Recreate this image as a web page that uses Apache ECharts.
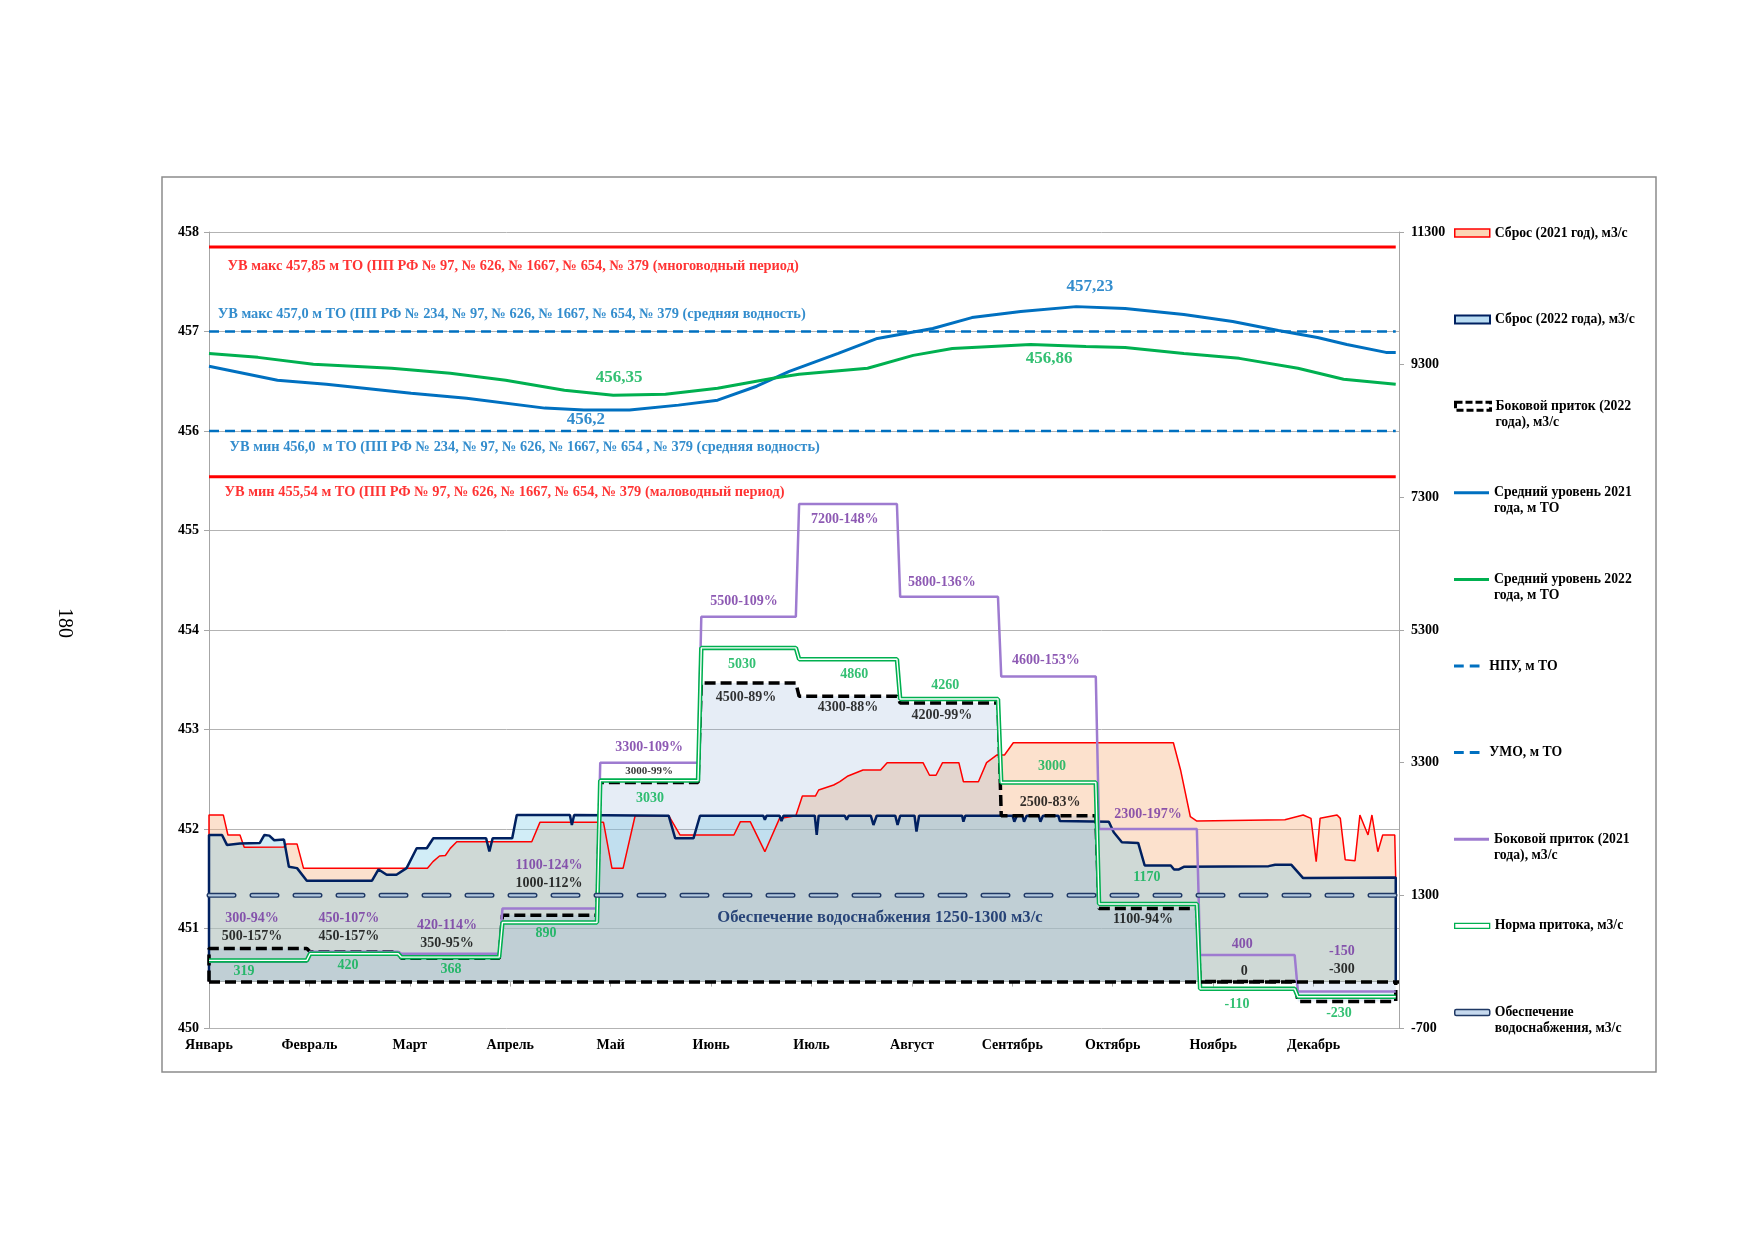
<!DOCTYPE html>
<html>
<head>
<meta charset="utf-8">
<title>Режим работы водохранилища 2021-2022</title>
<script src="https://cdn.jsdelivr.net/npm/echarts@6/dist/echarts.min.js"></script>
<style>
html, body { margin: 0; padding: 0; background: #fff; }
#chart { width: 1754px; height: 1240px; }
</style>
</head>
<body>
<div id="chart"></div>
<script>
// ---- данные ----
var monthStart = [0, 31, 59, 90, 120, 151, 181, 212, 243, 273, 304, 334, 365];
var monthNames = ['Январь', 'Февраль', 'Март', 'Апрель', 'Май', 'Июнь', 'Июль', 'Август', 'Сентябрь', 'Октябрь', 'Ноябрь', 'Декабрь'];

// боковой приток по месяцам, м3/с и % от нормы
var lat2021 = [300, 450, 420, 1100, 3300, 5500, 7200, 5800, 4600, 2300, 400, -150];
var lat2021Pct = [94, 107, 114, 124, 109, 109, 148, 136, 153, 197, null, null];
var lat2022 = [500, 450, 350, 1000, 3000, 4500, 4300, 4200, 2500, 1100, 0, -300];
var lat2022Pct = [157, 157, 95, 112, 99, 89, 88, 99, 83, 94, null, null];
var inflowNorm = [319, 420, 368, 890, 3030, 5030, 4860, 4260, 3000, 1170, -110, -230];

var supplyFlow = 1300;
var npuLevel = 457.0, umoLevel = 456.0, maxLevel = 457.85, minLevel = 455.54;

// средний уровень, м ТО: [день, уровень]
var level2021 = [[0,456.65],[21,456.51],[36,456.47],[62,456.38],[79,456.33],[103,456.23],[115,456.21],[129,456.21],[144,456.26],[156,456.31],[168,456.45],[178,456.60],[193,456.78],[205,456.93],[222,457.03],[234,457.14],[249,457.20],[266,457.25],[281,457.23],[299,457.17],[314,457.10],[328,457.01],[340,456.94],[349,456.87],[361,456.79],[364,456.79]];
var level2022 = [[0,456.78],[15,456.74],[32,456.67],[56,456.63],[74,456.58],[91,456.51],[109,456.41],[124,456.36],[140,456.37],[156,456.43],[173,456.53],[181,456.57],[202,456.63],[216,456.76],[228,456.83],[252,456.87],[269,456.85],[281,456.84],[299,456.78],[316,456.73],[334,456.63],[348,456.52],[364,456.47]];

// сброс, м3/с: [день, расход]
var release2021 = [[0,0],[0,2510],[4.4,2510],[5.8,2210],[9.5,2210],[10.8,2025],[23,2030],[23.8,2075],[27,2075],[29,1707],[67,1707],[68.7,1808],[70.7,1893],[72.5,1900],[74,2008],[76,2109],[99,2109],[101.5,2400],[121,2400],[123.6,1707],[127,1707],[130.7,2500],[141,2500],[144.5,2209],[161,2209],[163,2410],[166,2410],[170.5,1958],[175,2460],[180,2500],[182,2797],[186,2797],[187,2888],[191.6,2963],[193.5,3013],[196,3100],[200.6,3190],[206,3190],[208,3300],[219,3300],[221,3110],[223,3110],[225,3300],[230,3300],[231.4,3013],[236,3013],[238.5,3300],[241.6,3415],[244,3415],[246.7,3601],[295.8,3601],[298,3190],[301,2485],[303,2420],[330,2440],[335.6,2511],[338,2460],[339.6,1807],[340.8,2461],[346,2511],[347,2460],[348.5,1837],[351.5,1820],[353,2511],[355.5,2210],[356.7,2511],[358.5,1958],[360,2210],[363.7,2210],[364,1540],[364,0]];
var release2022 = [[0,0],[0,2210],[4,2210],[5.5,2060],[9.5,2080],[15.6,2090],[17,2210],[18.5,2200],[20,2130],[23,2140],[24.5,1730],[27,1710],[30,1520],[50,1520],[52,1690],[54.5,1610],[57.5,1610],[60.6,1710],[63.7,2010],[66.8,2010],[68.8,2160],[85,2160],[86,1960],[87,2160],[93,2160],[94.4,2510],[110.7,2510],[111.3,2360],[112,2510],[141,2500],[143,2160],[148.6,2160],[150.6,2500],[170,2500],[170.5,2440],[171,2500],[175,2500],[175.6,2420],[176.2,2500],[185.8,2500],[186.4,2210],[187,2500],[195,2500],[195.6,2440],[196.2,2500],[203,2500],[203.8,2360],[204.8,2500],[210.5,2500],[211.2,2360],[212,2500],[216.4,2500],[217,2260],[217.8,2500],[231,2500],[231.4,2410],[232,2500],[246.5,2500],[247,2410],[247.8,2500],[249.5,2500],[250,2410],[250.8,2500],[254.5,2500],[255,2410],[255.8,2500],[260.5,2500],[261,2420],[276,2410],[277.5,2250],[280,2100],[285,2090],[287,1750],[295,1750],[296,1690],[297.5,1690],[299,1730],[325,1740],[327,1760],[332,1760],[335.6,1560],[364,1570],[364,0]];

// подписи
var maxText = 'УВ макс 457,85 м ТО (ПП РФ № 97, № 626, № 1667, № 654, № 379 (многоводный период)';
var npuText = 'УВ макс 457,0 м ТО (ПП РФ № 234, № 97, № 626, № 1667, № 654, № 379 (средняя водность)';
var umoText = 'УВ мин 456,0  м ТО (ПП РФ № 234, № 97, № 626, № 1667, № 654 , № 379 (средняя водность)';
var minText = 'УВ мин 455,54 м ТО (ПП РФ № 97, № 626, № 1667, № 654, № 379 (маловодный период)';
var supplyText = 'Обеспечение водоснабжения 1250-1300 м3/с';
var level2021Text = ['456,2', '457,23'];
var level2022Text = ['456,35', '456,86'];

// ---- где стоят подписи (день, значение по оси) ----
var purpleLabelAt = [[13.2,958],[42.9,958],[73,853],[104.3,1757],[135,3536],[164.1,5737],[195,6973],[224.8,6023],[256.7,4848],[288,2526],[316.9,566],[347.5,461]];
var blackLabelAt = [[13.2,687],[42.9,687],[73,581],[104.3,1486],[135,3174],[164.7,4290],[196,4139],[224.8,4018],[258,2707],[286.5,943],[317.5,159],[347.5,189]];
var greenLabelAt = [[10.7,159],[42.6,250],[74.2,189],[103.4,732],[135.3,2767],[163.5,4787],[197.9,4637],[225.8,4471],[258.6,3250],[287.7,1576],[315.3,-338],[346.6,-474]];
var level2021LabelAt = [[115.6,456.11],[270.2,457.45]];
var level2022LabelAt = [[125.8,456.54],[257.7,456.73]];
var limitLabelAt = [[5.5,457.66],[2.5,457.17],[6.1,455.84],[4.6,455.38]];
var supplyLabelAt = [205.8, 958];

var FONT = "'Liberation Serif', 'DejaVu Serif', serif";
var monthTick = 30.8;

// ступенчатая линия по месяцам
function monthSteps(vals) {
    var pts = [];
    for (var i = 0; i < vals.length; i++) {
        pts.push([monthStart[i], vals[i]]);
        pts.push([Math.min(monthStart[i + 1] - 1, 364), vals[i]]);
    }
    return pts;
}

function flat(v) {
    return [[0, v], [364, v]];
}

function pctText(vals, pct) {
    return vals.map(function (v, i) {
        return pct[i] == null ? String(v) : v + '-' + pct[i] + '%';
    });
}

// серия только с подписями
function labelSeries(texts, places, color, axis, size, extra) {
    return {
        type: 'scatter',
        yAxisIndex: axis,
        symbolSize: 1,
        silent: true,
        itemStyle: { color: 'rgba(0,0,0,0)' },
        label: Object.assign({
            show: true,
            position: 'inside',
            color: color,
            fontFamily: FONT,
            fontWeight: 'bold',
            fontSize: size,
            formatter: '{b}'
        }, extra || {}),
        data: texts.map(function (t, i) {
            return { name: t, value: places[i] };
        }),
        z: 20
    };
}

var purpleTexts = pctText(lat2021, lat2021Pct);
var blackTexts = pctText(lat2022, lat2022Pct);
var greenTexts = inflowNorm.map(String);

var lat2022Line = [[0, 0]].concat(monthSteps(lat2022), [[364, 0]]);

var series = [
    {
        name: 'Сброс (2021 год), м3/с', type: 'line', yAxisIndex: 1, symbol: 'none',
        lineStyle: { color: '#ff0000', width: 1.5 },
        areaStyle: { color: 'rgba(248,183,137,0.6)' },
        data: release2021
    },
    {
        name: 'Сброс (2022 года), м3/с', type: 'line', yAxisIndex: 1, symbol: 'none',
        lineStyle: { color: '#002060', width: 2.5 },
        areaStyle: { color: 'rgba(124,203,232,0.5)' },
        data: release2022
    },
    {
        name: 'Боковой приток (2022 года), м3/с', type: 'line', yAxisIndex: 1, symbol: 'none',
        lineStyle: { color: '#000', width: 3.5, type: [11, 5] },
        areaStyle: { color: 'rgba(138,172,212,0.3)' },
        markLine: {
            silent: true, symbol: 'none', label: { show: false },
            lineStyle: { color: '#000', width: 3.5, type: [11, 5] },
            data: [{ yAxis: 0 }]
        },
        data: lat2022Line
    },
    {
        name: 'НПУ, м ТО', type: 'line', yAxisIndex: 0, symbol: 'none',
        lineStyle: { color: '#0070c0', width: 2.5, type: [10, 6] },
        data: flat(npuLevel)
    },
    {
        name: 'УМО, м ТО', type: 'line', yAxisIndex: 0, symbol: 'none',
        lineStyle: { color: '#0070c0', width: 2.5, type: [10, 6] },
        data: flat(umoLevel)
    },
    {
        name: 'УВ макс', type: 'line', yAxisIndex: 0, symbol: 'none',
        lineStyle: { color: '#ff0000', width: 3 },
        data: flat(maxLevel)
    },
    {
        name: 'УВ мин', type: 'line', yAxisIndex: 0, symbol: 'none',
        lineStyle: { color: '#ff0000', width: 3 },
        data: flat(minLevel)
    },
    {
        name: 'Средний уровень 2021 года, м ТО', type: 'line', yAxisIndex: 0, symbol: 'none',
        lineStyle: { color: '#0070c0', width: 3 },
        data: level2021
    },
    {
        name: 'Средний уровень 2022 года, м ТО', type: 'line', yAxisIndex: 0, symbol: 'none',
        lineStyle: { color: '#00b050', width: 3 },
        data: level2022
    },
    {
        name: 'Боковой приток (2021 года), м3/с', type: 'line', yAxisIndex: 1, symbol: 'none',
        lineStyle: { color: '#9e7bd0', width: 2.5 },
        data: monthSteps(lat2021)
    },
    {
        name: 'Норма притока, м3/с', type: 'line', yAxisIndex: 1, symbol: 'none',
        lineStyle: { color: '#00b050', width: 4.5 },
        data: monthSteps(inflowNorm)
    },
    {
        name: 'norm-inner', type: 'line', yAxisIndex: 1, symbol: 'none', silent: true,
        lineStyle: { color: '#ffffff', width: 1.4 },
        data: monthSteps(inflowNorm)
    },
    {
        name: 'Обеспечение водоснабжения, м3/с', type: 'line', yAxisIndex: 1, symbol: 'none',
        lineStyle: { color: '#1f3864', width: 5, type: [25, 18], cap: 'round' },
        data: flat(supplyFlow)
    },
    {
        name: 'supply-inner', type: 'line', yAxisIndex: 1, symbol: 'none', silent: true,
        lineStyle: { color: '#b4c9df', width: 2.2, type: [25, 18], cap: 'round' },
        data: flat(supplyFlow)
    },
    labelSeries(purpleTexts, purpleLabelAt, '#7030a0', 1, 14),
    labelSeries(blackTexts, blackLabelAt, '#000000', 1, 14),
    labelSeries(greenTexts, greenLabelAt, '#00b050', 1, 14),
    labelSeries(level2021Text, level2021LabelAt, '#0070c0', 0, 17),
    labelSeries(level2022Text, level2022LabelAt, '#00b050', 0, 17),
    labelSeries([supplyText], [supplyLabelAt], '#002060', 1, 16.6),
    labelSeries([maxText, npuText, umoText, minText], limitLabelAt, '#ff0000', 0, 14.4, { position: 'right', distance: 0 })
];
// цвет подписей у линий НПУ / УМО
series[series.length - 1].data[1].label = { color: '#0070c0' };
series[series.length - 1].data[2].label = { color: '#0070c0' };
// подпись 3000-99% мельче
series[15].data[4].label = { fontSize: 11 };

// ---- легенда: по одному элементу ----
var legendItems = [
    { name: 'Сброс (2021 год), м3/с', text: 'Сброс (2021 год), м3/с', icon: 'rect', h: 8,
      style: { color: '#fcd5b5', borderColor: '#ff0000', borderWidth: 1.5 } },
    { name: 'Сброс (2022 года), м3/с', text: 'Сброс (2022 года), м3/с', icon: 'rect', h: 8,
      style: { color: '#b9dcf3', borderColor: '#002060', borderWidth: 2 } },
    { name: 'Боковой приток (2022 года), м3/с', text: 'Боковой приток (2022\nгода), м3/с', icon: 'rect', h: 8,
      style: { color: '#ffffff', borderColor: '#000000', borderWidth: 3, borderType: [7, 3] } },
    { name: 'Средний уровень 2021 года, м ТО', text: 'Средний уровень 2021\nгода, м ТО', icon: 'rect', h: 3,
      style: { color: '#0070c0', borderWidth: 0 } },
    { name: 'Средний уровень 2022 года, м ТО', text: 'Средний уровень 2022\nгода, м ТО', icon: 'rect', h: 3,
      style: { color: '#00b050', borderWidth: 0 } },
    { name: 'НПУ, м ТО', text: 'НПУ, м ТО', icon: 'path://M0,0h13v4h-13z M21,0h13v4h-13z', h: 3,
      style: { color: '#0070c0', borderWidth: 0 } },
    { name: 'УМО, м ТО', text: 'УМО, м ТО', icon: 'path://M0,0h13v4h-13z M21,0h13v4h-13z', h: 3,
      style: { color: '#0070c0', borderWidth: 0 } },
    { name: 'Боковой приток (2021 года), м3/с', text: 'Боковой приток (2021\nгода), м3/с', icon: 'rect', h: 3,
      style: { color: '#9e7bd0', borderWidth: 0 } },
    { name: 'Норма притока, м3/с', text: 'Норма притока, м3/с', icon: 'rect', h: 5,
      style: { color: '#ffffff', borderColor: '#00b050', borderWidth: 1.3 } },
    { name: 'Обеспечение водоснабжения, м3/с', text: 'Обеспечение\nводоснабжения, м3/с', icon: 'roundRect', h: 6,
      style: { color: '#c6d9ee', borderColor: '#1f3864', borderWidth: 1.5 } }
];

var LH = 16;
var legends = legendItems.map(function (it, i) {
    var center = 228 + i * 86.6;
    var twoLines = it.text.indexOf('\n') >= 0;
    // пустая строка сверху, чтобы значок стоял против первой строки
    var text = twoLines ? ' \n' + it.text : it.text;
    return {
        left: 1449,
        top: center - (twoLines ? LH * 1.5 : LH / 2),
        itemWidth: 35,
        itemHeight: it.h,
        selectedMode: false,
        formatter: text,
        textStyle: {
            fontFamily: FONT, fontWeight: 'bold', fontSize: 13.7, color: '#000',
            lineHeight: LH
        },
        data: [{ name: it.name, icon: it.icon, itemStyle: it.style }]
    };
});

var axisText = { fontFamily: FONT, fontWeight: 'bold', fontSize: 14, color: '#000' };

var option = {
    animation: false,
    backgroundColor: '#ffffff',
    grid: { left: 209, right: 355, top: 232, bottom: 212, containLabel: false },
    legend: legends,
    xAxis: {
        type: 'value', min: 0, max: 365, interval: monthTick,
        axisLine: { lineStyle: { color: '#a6a6a6', width: 1 } },
        axisTick: { show: true, length: 5, lineStyle: { color: '#a6a6a6' } },
        splitLine: { show: false },
        axisLabel: Object.assign({
            margin: 10,
            formatter: function (v) {
                var k = Math.round(v / monthTick);
                if (k > 11 || Math.abs(v - k * monthTick) > 0.01) return '';
                return monthNames[k];
            }
        }, axisText)
    },
    yAxis: [
        {
            type: 'value', min: 450, max: 458, interval: 1, position: 'left',
            axisLine: { show: true, lineStyle: { color: '#a6a6a6' } },
            axisTick: { show: true, length: 5, lineStyle: { color: '#a6a6a6' } },
            splitLine: { show: true, lineStyle: { color: '#b3b3b3', width: 1 } },
            axisLabel: Object.assign({ margin: 10 }, axisText)
        },
        {
            type: 'value', min: -700, max: 11300, interval: 2000, position: 'right',
            axisLine: { show: true, lineStyle: { color: '#a6a6a6' } },
            axisTick: { show: true, length: 5, lineStyle: { color: '#a6a6a6' } },
            splitLine: { show: false },
            axisLabel: Object.assign({
                margin: 12,
                formatter: function (v) { return String(v); }
            }, axisText)
        }
    ],
    graphic: [
        {
            type: 'rect', silent: true, z: -1,
            shape: { x: 162, y: 177, width: 1494, height: 895 },
            style: { fill: 'none', stroke: '#8c8c8c', lineWidth: 1.5 }
        },
        {
            type: 'text', silent: true, x: 64, y: 623, rotation: -Math.PI / 2,
            style: { text: '180', fontFamily: FONT, fontSize: 20, fill: '#000', align: 'center', verticalAlign: 'middle' }
        }
    ],
    series: series
};

var myChart = echarts.init(document.getElementById('chart'), null, { renderer: 'canvas' });
myChart.setOption(option);
</script>
</body>
</html>
